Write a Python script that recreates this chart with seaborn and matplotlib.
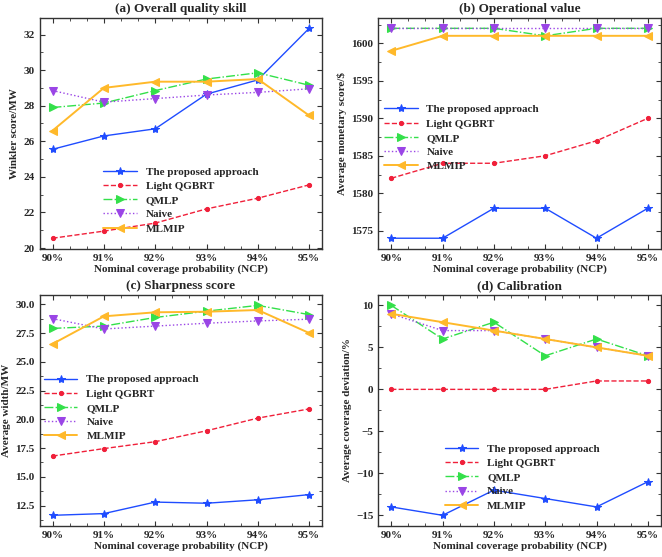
import numpy as np
import pandas as pd
import seaborn as sns
import matplotlib
matplotlib.use('Agg')
import matplotlib.pyplot as plt
from matplotlib.ticker import AutoMinorLocator

ncp_labels = ['90%', '91%', '92%', '93%', '94%', '95%']
methods = ['The proposed approach', 'Light QGBRT', 'QMLP', 'Naive', 'MLMIP']

# (a) Winkler score
winkler_proposed = [25.55, 26.3, 26.7, 28.65, 29.45, 32.35]
winkler_lqgbrt = [20.55, 20.95, 21.4, 22.2, 22.8, 23.55]
winkler_qmlp = [27.9, 28.15, 28.85, 29.5, 29.85, 29.15]
winkler_naive = [28.85, 28.2, 28.4, 28.6, 28.75, 28.95]
winkler_mlmip = [26.6, 29.0, 29.35, 29.35, 29.5, 27.45]

# (b) monetary score
money_proposed = [1574, 1574, 1578, 1578, 1574, 1578]
money_lqgbrt = [1582, 1584, 1584, 1585, 1587, 1590]
money_qmlp = [1602, 1602, 1602, 1601, 1602, 1602]
money_naive = [1602, 1602, 1602, 1602, 1602, 1602]
money_mlmip = [1599, 1601, 1601, 1601, 1601, 1601]

# (c) average width
width_proposed = [11.65, 11.8, 12.8, 12.7, 13.0, 13.45]
width_lqgbrt = [16.8, 17.45, 18.05, 19.0, 20.1, 20.9]
width_qmlp = [27.9, 28.1, 28.85, 29.4, 29.9, 29.1]
width_naive = [28.75, 27.85, 28.1, 28.35, 28.55, 28.7]
width_mlmip = [26.55, 28.95, 29.3, 29.35, 29.5, 27.5]

# (d) coverage deviation
cover_proposed = [-14, -15, -12, -13, -14, -11]
cover_lqgbrt = [0, 0, 0, 0, 1, 1]
cover_qmlp = [10, 6, 8, 4, 6, 4]
cover_naive = [9, 7, 7, 6, 5, 4]
cover_mlmip = [9, 8, 7, 6, 5, 4]

styles = {
    'The proposed approach': dict(color='#1f4cff', marker='*', linestyle='-', lw=1.0, ms=6),
    'Light QGBRT': dict(color='#f0203a', marker='.', linestyle='--', lw=1.0, ms=6),
    'QMLP': dict(color='#33e04a', marker='>', linestyle='-.', lw=1.0, ms=6),
    'Naive': dict(color='#9a45e6', marker='v', linestyle=':', lw=1.0, ms=6),
    'MLMIP': dict(color='#ffb92a', marker='<', linestyle='-', lw=1.4, ms=6),
}

sns.set_style('ticks')
plt.rcParams['font.family'] = ['Liberation Serif', 'DejaVu Serif']
plt.rcParams['font.weight'] = 'bold'
plt.rcParams['axes.labelweight'] = 'bold'
plt.rcParams['axes.titleweight'] = 'bold'
plt.rcParams['xtick.direction'] = 'in'
plt.rcParams['ytick.direction'] = 'in'


def draw_panel(ax, series, title, ylabel, legend_center):
    x = np.arange(len(ncp_labels))
    for name, vals in zip(methods, series):
        st = styles[name]
        sns.lineplot(x=x, y=vals, ax=ax, label=name, color=st['color'],
                     marker=st['marker'], linestyle=st['linestyle'],
                     linewidth=st['lw'], markersize=st['ms'],
                     markeredgecolor=st['color'], errorbar=None)
    ax.set_xticks(x)
    ax.set_xticklabels(ncp_labels)
    ax.set_title(title, fontsize=9.5, pad=4)
    ax.set_xlabel('Nominal coverage probability (NCP)', fontsize=8, labelpad=1)
    ax.set_ylabel(ylabel, fontsize=8, labelpad=3)
    ax.tick_params(axis='both', which='both', top=True, right=True, labelsize=8)
    ax.tick_params(which='major', length=3.5, color='#333333')
    ax.tick_params(which='minor', length=2, color='#333333')
    ax.xaxis.set_minor_locator(AutoMinorLocator(3))
    ax.yaxis.set_minor_locator(AutoMinorLocator(2))
    for sp in ax.spines.values():
        sp.set_color('#333333')
        sp.set_linewidth(1.0)
    ax.legend(loc='center', bbox_to_anchor=legend_center, frameon=False,
              fontsize=8, handlelength=3, labelspacing=0.4, borderpad=0.2)


fig, axes = plt.subplots(2, 2, figsize=(6.62, 5.57), dpi=100)
draw_panel(axes[0, 0], [winkler_proposed, winkler_lqgbrt, winkler_qmlp, winkler_naive, winkler_mlmip],
           '(a) Overall quality skill', 'Winkler score/MW', (0.50, 0.21))
draw_panel(axes[0, 1], [money_proposed, money_lqgbrt, money_qmlp, money_naive, money_mlmip],
           '(b) Operational value', 'Average monetary score/$', (0.295, 0.48))
draw_panel(axes[1, 0], [width_proposed, width_lqgbrt, width_qmlp, width_naive, width_mlmip],
           '(c) Sharpness score', 'Average width/MW', (0.29, 0.51))
draw_panel(axes[1, 1], [cover_proposed, cover_lqgbrt, cover_qmlp, cover_naive, cover_mlmip],
           '(d) Calibration', 'Average coverage deviation/%', (0.51, 0.21))

plt.subplots_adjust(left=0.06, right=0.998, top=0.968, bottom=0.056, wspace=0.2, hspace=0.2)
fig.savefig('out.png', dpi=100)
